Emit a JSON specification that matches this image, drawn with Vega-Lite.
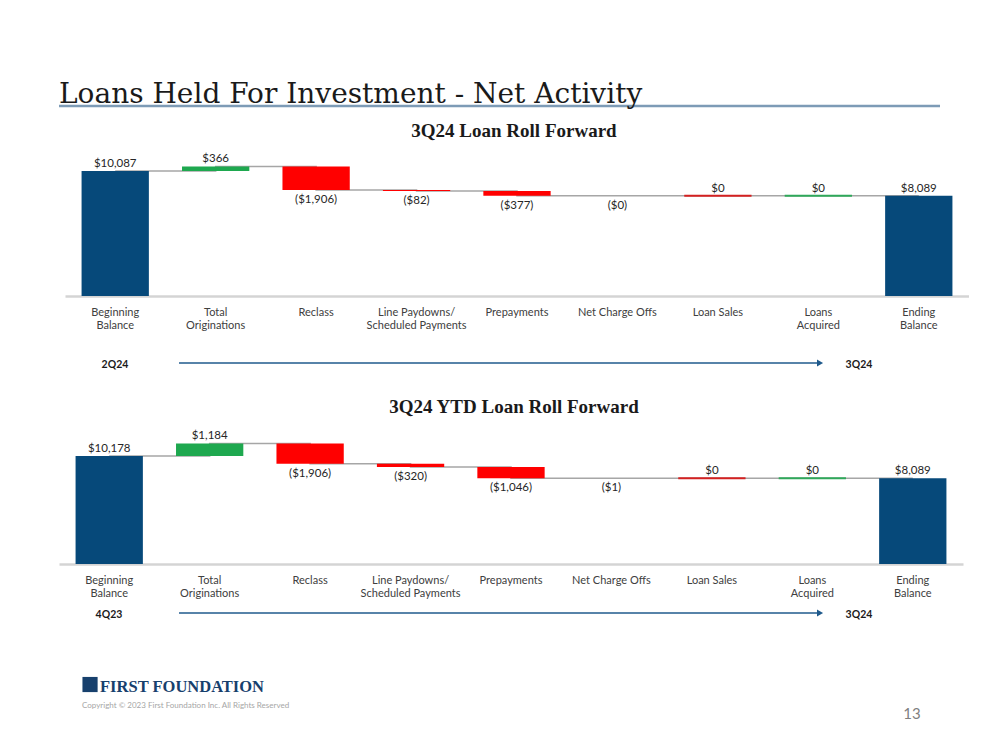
{
  "$schema": "https://vega.github.io/schema/vega-lite/v6.json",
  "background": "white",
  "padding": {"left": 57, "top": 0, "right": 0, "bottom": 0},
  "bounds": "flush",
  "spacing": 0,
  "config": {"view": {"stroke": null}, "font": "Lato"},
  "datasets": {
    "q3": [
      {"cat": "Beginning\nBalance", "start": 0, "end": 10087, "label": "$10,087", "kind": "total"},
      {"cat": "Total\nOriginations", "start": 10087, "end": 10453, "label": "$366", "kind": "increase"},
      {"cat": "Reclass", "start": 10453, "end": 8547, "label": "($1,906)", "kind": "decrease"},
      {"cat": "Line Paydowns/\nScheduled Payments", "start": 8547, "end": 8465, "label": "($82)", "kind": "decrease"},
      {"cat": "Prepayments", "start": 8465, "end": 8088, "label": "($377)", "kind": "decrease"},
      {"cat": "Net Charge Offs", "start": 8088, "end": 8088, "label": "($0)", "kind": "decrease"},
      {"cat": "Loan Sales", "start": 8088, "end": 8088, "label": "$0", "kind": "decrease"},
      {"cat": "Loans\nAcquired", "start": 8088, "end": 8088, "label": "$0", "kind": "increase"},
      {"cat": "Ending\nBalance", "start": 0, "end": 8089, "label": "$8,089", "kind": "total"}
    ],
    "ytd": [
      {"cat": "Beginning\nBalance", "start": 0, "end": 10178, "label": "$10,178", "kind": "total"},
      {"cat": "Total\nOriginations", "start": 10178, "end": 11362, "label": "$1,184", "kind": "increase"},
      {"cat": "Reclass", "start": 11362, "end": 9456, "label": "($1,906)", "kind": "decrease"},
      {"cat": "Line Paydowns/\nScheduled Payments", "start": 9456, "end": 9136, "label": "($320)", "kind": "decrease"},
      {"cat": "Prepayments", "start": 9136, "end": 8090, "label": "($1,046)", "kind": "decrease"},
      {"cat": "Net Charge Offs", "start": 8090, "end": 8089, "label": "($1)", "kind": "decrease"},
      {"cat": "Loan Sales", "start": 8089, "end": 8089, "label": "$0", "kind": "decrease"},
      {"cat": "Loans\nAcquired", "start": 8089, "end": 8089, "label": "$0", "kind": "increase"},
      {"cat": "Ending\nBalance", "start": 0, "end": 8089, "label": "$8,089", "kind": "total"}
    ]
  },
  "vconcat": [
    {
      "width": 881,
      "height": 106,
      "data": {"values": [{"title": "Loans Held For Investment - Net Activity"}]},
      "layer": [
        {
          "mark": {"type": "rule", "color": "#7d9bb6", "strokeWidth": 2.5},
          "encoding": {
            "x": {"datum": 0, "type": "quantitative", "scale": {"domain": [0, 1]}, "axis": null},
            "x2": {"datum": 1},
            "y": {"datum": 0, "type": "quantitative", "scale": {"domain": [0, 1]}, "axis": null}
          }
        },
        {
          "mark": {"type": "text", "align": "left", "baseline": "alphabetic", "dy": -3, "font": "DejaVu Serif", "fontSize": 28, "color": "#1a1a1a"},
          "encoding": {
            "text": {"field": "title"},
            "x": {"datum": 0, "type": "quantitative"},
            "y": {"datum": 0, "type": "quantitative"}
          }
        }
      ]
    },
    {
      "width": 910,
      "height": 190,
      "title": {"text": "3Q24 Loan Roll Forward", "anchor": "middle", "font": "Liberation Serif", "fontSize": 19, "fontWeight": "bold", "color": "#1a1a1a", "offset": -50, "baseline": "alphabetic"},
      "data": {"name": "q3"},
      "encoding": {
        "x": {
          "field": "cat", "type": "nominal", "sort": null,
          "scale": {"type": "band", "paddingInner": 0.33, "paddingOuter": 0.165, "range": [6, 910]},
          "axis": {"title": null, "labelAngle": 0, "labelExpr": "split(datum.label, '\\n')", "labelFont": "Lato", "labelFontSize": 11, "labelColor": "#404040", "labelLineHeight": 13, "labelPadding": 10, "labelBaseline": "top", "ticks": false, "grid": false, "domainColor": "#d4d4d4", "domainWidth": 2.5}
        }
      },
      "layer": [
        {
          "mark": {"type": "line", "interpolate": "step-after", "color": "#a6a6a6", "strokeWidth": 1.5},
          "encoding": {
            "y": {"field": "end", "type": "quantitative", "scale": {"domain": [0, 15335], "nice": false}, "axis": null},
            "order": {"value": null}
          }
        },
        {
          "mark": {"type": "bar"},
          "encoding": {
            "y": {"field": "start", "type": "quantitative", "scale": {"domain": [0, 15335], "nice": false}, "axis": null},
            "y2": {"field": "end"},
            "color": {"field": "kind", "type": "nominal", "scale": {"domain": ["total", "increase", "decrease"], "range": ["#06497a", "#1ea84f", "#ff0000"]}, "legend": null}
          }
        },
        {
          "transform": [{"filter": "datum.start == datum.end && datum.cat != 'Net Charge Offs'"}],
          "mark": {"type": "bar", "strokeWidth": 2},
          "encoding": {
            "y": {"field": "start", "type": "quantitative", "scale": {"domain": [0, 15335], "nice": false}, "axis": null},
            "y2": {"field": "end"},
            "color": {"field": "kind", "type": "nominal", "scale": {"domain": ["total", "increase", "decrease"], "range": ["#06497a", "#1ea84f", "#ff0000"]}, "legend": null},
            "stroke": {"field": "kind", "type": "nominal", "scale": {"domain": ["total", "increase", "decrease"], "range": ["#06497a", "#2fa85a", "#d42020"]}, "legend": null}
          }
        },
        {
          "transform": [{"filter": "indexof(datum.label, '(') != 0"}],
          "mark": {"type": "text", "baseline": "bottom", "dy": -2, "font": "Lato", "fontSize": 11.5, "color": "#262626"},
          "encoding": {
            "y": {"field": "end", "type": "quantitative", "scale": {"domain": [0, 15335], "nice": false}, "axis": null},
            "text": {"field": "label"}
          }
        },
        {
          "transform": [{"filter": "indexof(datum.label, '(') == 0"}],
          "mark": {"type": "text", "baseline": "top", "dy": 4, "font": "Lato", "fontSize": 11.5, "color": "#262626"},
          "encoding": {
            "y": {"field": "end", "type": "quantitative", "scale": {"domain": [0, 15335], "nice": false}, "axis": null},
            "text": {"field": "label"}
          }
        }
      ]
    },
    {
      "width": 910,
      "height": 67,
      "data": {"values": [{"from": "2Q24", "to": "3Q24"}]},
      "layer": [
        {
          "mark": {"type": "rule", "color": "#1f5a8c", "strokeWidth": 1.5},
          "encoding": {
            "x": {"datum": 0.1319, "type": "quantitative", "scale": {"domain": [0, 1]}, "axis": null},
            "x2": {"datum": 0.8352},
            "y": {"datum": 0, "type": "quantitative", "scale": {"domain": [0, 1]}, "axis": null}
          }
        },
        {
          "mark": {"type": "point", "shape": "triangle-right", "filled": true, "size": 50, "color": "#1f5a8c", "opacity": 1},
          "encoding": {
            "x": {"datum": 0.8363, "type": "quantitative"},
            "y": {"datum": 0, "type": "quantitative"}
          }
        },
        {
          "mark": {"type": "text", "baseline": "middle", "dy": 2, "font": "Lato", "fontWeight": "bold", "fontSize": 10.5, "color": "#1a1a1a"},
          "encoding": {
            "text": {"field": "from"},
            "x": {"datum": 0.0615, "type": "quantitative"},
            "y": {"datum": 0, "type": "quantitative"}
          }
        },
        {
          "mark": {"type": "text", "baseline": "middle", "dy": 2, "font": "Lato", "fontWeight": "bold", "fontSize": 10.5, "color": "#1a1a1a"},
          "encoding": {
            "text": {"field": "to"},
            "x": {"datum": 0.8791, "type": "quantitative"},
            "y": {"datum": 0, "type": "quantitative"}
          }
        }
      ]
    },
    {
      "width": 910,
      "height": 201,
      "title": {"text": "3Q24 YTD Loan Roll Forward", "anchor": "middle", "font": "Liberation Serif", "fontSize": 19, "fontWeight": "bold", "color": "#1a1a1a", "offset": -69, "baseline": "alphabetic"},
      "data": {"name": "ytd"},
      "encoding": {
        "x": {
          "field": "cat", "type": "nominal", "sort": null,
          "scale": {"type": "band", "paddingInner": 0.33, "paddingOuter": 0.165, "range": [0, 904]},
          "axis": {"title": null, "labelAngle": 0, "labelExpr": "split(datum.label, '\\n')", "labelFont": "Lato", "labelFontSize": 11, "labelColor": "#404040", "labelLineHeight": 13, "labelPadding": 10, "labelBaseline": "top", "ticks": false, "grid": false, "domainColor": "#d4d4d4", "domainWidth": 2.5}
        }
      },
      "layer": [
        {
          "mark": {"type": "line", "interpolate": "step-after", "color": "#a6a6a6", "strokeWidth": 1.5},
          "encoding": {
            "y": {"field": "end", "type": "quantitative", "scale": {"domain": [0, 18944], "nice": false}, "axis": null},
            "order": {"value": null}
          }
        },
        {
          "mark": {"type": "bar"},
          "encoding": {
            "y": {"field": "start", "type": "quantitative", "scale": {"domain": [0, 18944], "nice": false}, "axis": null},
            "y2": {"field": "end"},
            "color": {"field": "kind", "type": "nominal", "scale": {"domain": ["total", "increase", "decrease"], "range": ["#06497a", "#1ea84f", "#ff0000"]}, "legend": null}
          }
        },
        {
          "transform": [{"filter": "datum.start == datum.end && datum.cat != 'Net Charge Offs'"}],
          "mark": {"type": "bar", "strokeWidth": 2},
          "encoding": {
            "y": {"field": "start", "type": "quantitative", "scale": {"domain": [0, 18944], "nice": false}, "axis": null},
            "y2": {"field": "end"},
            "color": {"field": "kind", "type": "nominal", "scale": {"domain": ["total", "increase", "decrease"], "range": ["#06497a", "#1ea84f", "#ff0000"]}, "legend": null},
            "stroke": {"field": "kind", "type": "nominal", "scale": {"domain": ["total", "increase", "decrease"], "range": ["#06497a", "#2fa85a", "#d42020"]}, "legend": null}
          }
        },
        {
          "transform": [{"filter": "indexof(datum.label, '(') != 0"}],
          "mark": {"type": "text", "baseline": "bottom", "dy": -2, "font": "Lato", "fontSize": 11.5, "color": "#262626"},
          "encoding": {
            "y": {"field": "end", "type": "quantitative", "scale": {"domain": [0, 18944], "nice": false}, "axis": null},
            "text": {"field": "label"}
          }
        },
        {
          "transform": [{"filter": "indexof(datum.label, '(') == 0"}],
          "mark": {"type": "text", "baseline": "top", "dy": 4, "font": "Lato", "fontSize": 11.5, "color": "#262626"},
          "encoding": {
            "y": {"field": "end", "type": "quantitative", "scale": {"domain": [0, 18944], "nice": false}, "axis": null},
            "text": {"field": "label"}
          }
        }
      ]
    },
    {
      "width": 910,
      "height": 49,
      "data": {"values": [{"from": "4Q23", "to": "3Q24"}]},
      "layer": [
        {
          "mark": {"type": "rule", "color": "#1f5a8c", "strokeWidth": 1.5},
          "encoding": {
            "x": {"datum": 0.1319, "type": "quantitative", "scale": {"domain": [0, 1]}, "axis": null},
            "x2": {"datum": 0.8352},
            "y": {"datum": 0, "type": "quantitative", "scale": {"domain": [0, 1]}, "axis": null}
          }
        },
        {
          "mark": {"type": "point", "shape": "triangle-right", "filled": true, "size": 50, "color": "#1f5a8c", "opacity": 1},
          "encoding": {
            "x": {"datum": 0.8363, "type": "quantitative"},
            "y": {"datum": 0, "type": "quantitative"}
          }
        },
        {
          "mark": {"type": "text", "baseline": "middle", "dy": 2, "font": "Lato", "fontWeight": "bold", "fontSize": 10.5, "color": "#1a1a1a"},
          "encoding": {
            "text": {"field": "from"},
            "x": {"datum": 0.0549, "type": "quantitative"},
            "y": {"datum": 0, "type": "quantitative"}
          }
        },
        {
          "mark": {"type": "text", "baseline": "middle", "dy": 2, "font": "Lato", "fontWeight": "bold", "fontSize": 10.5, "color": "#1a1a1a"},
          "encoding": {
            "text": {"field": "to"},
            "x": {"datum": 0.8791, "type": "quantitative"},
            "y": {"datum": 0, "type": "quantitative"}
          }
        }
      ]
    },
    {
      "width": 910,
      "height": 137,
      "data": {"values": [{"logo": "FIRST FOUNDATION", "copy": "Copyright © 2023 First Foundation Inc. All Rights Reserved", "page": "13"}]},
      "layer": [
        {
          "mark": {"type": "point", "shape": "square", "filled": true, "size": 230, "color": "#17406d", "opacity": 1},
          "encoding": {
            "x": {"datum": 0.0341, "type": "quantitative", "scale": {"domain": [0, 1]}, "axis": null},
            "y": {"datum": 0.478, "type": "quantitative", "scale": {"domain": [0, 1]}, "axis": null}
          }
        },
        {
          "mark": {"type": "text", "align": "left", "baseline": "alphabetic", "font": "Liberation Serif", "fontWeight": "bold", "fontSize": 16.5, "color": "#17406d"},
          "encoding": {
            "text": {"field": "logo"},
            "x": {"datum": 0.0451, "type": "quantitative"},
            "y": {"datum": 0.4234, "type": "quantitative"}
          }
        },
        {
          "mark": {"type": "text", "align": "left", "baseline": "alphabetic", "font": "Lato", "fontSize": 8, "color": "#a6a6a6"},
          "encoding": {
            "text": {"field": "copy"},
            "x": {"datum": 0.0253, "type": "quantitative"},
            "y": {"datum": 0.3066, "type": "quantitative"}
          }
        },
        {
          "mark": {"type": "text", "align": "center", "baseline": "alphabetic", "font": "Lato", "fontSize": 15, "color": "#7f7f7f"},
          "encoding": {
            "text": {"field": "page"},
            "x": {"datum": 0.9374, "type": "quantitative"},
            "y": {"datum": 0.2263, "type": "quantitative"}
          }
        }
      ]
    }
  ]
}
